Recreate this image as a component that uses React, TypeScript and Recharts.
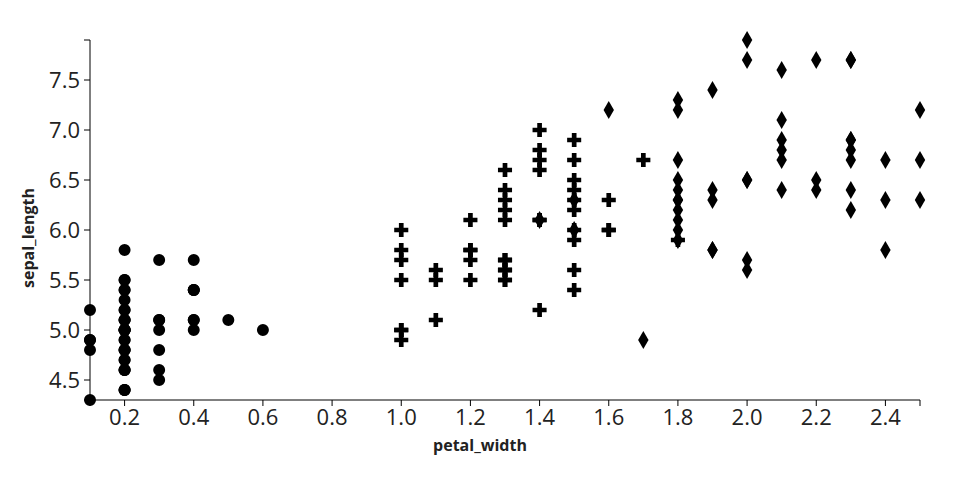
import React from 'react';
import { ScatterChart, Scatter, XAxis, YAxis, Symbols } from 'recharts';

// iris: petal_width vs sepal_length, one array pair per species
const setosaPetalWidth = [
  0.2, 0.2, 0.2, 0.2, 0.2, 0.4, 0.3, 0.2, 0.2, 0.1, 0.2, 0.2, 0.1, 0.1, 0.2, 0.4, 0.4,
  0.3, 0.3, 0.3, 0.2, 0.4, 0.2, 0.5, 0.2, 0.2, 0.4, 0.2, 0.2, 0.2, 0.2, 0.4, 0.1, 0.2,
  0.2, 0.2, 0.2, 0.1, 0.2, 0.2, 0.3, 0.3, 0.2, 0.6, 0.4, 0.3, 0.2, 0.2, 0.2, 0.2,
];
const setosaSepalLength = [
  5.1, 4.9, 4.7, 4.6, 5.0, 5.4, 4.6, 5.0, 4.4, 4.9, 5.4, 4.8, 4.8, 4.3, 5.8, 5.7, 5.4,
  5.1, 5.7, 5.1, 5.4, 5.1, 4.6, 5.1, 4.8, 5.0, 5.0, 5.2, 5.2, 4.7, 4.8, 5.4, 5.2, 5.5,
  4.9, 5.0, 5.5, 4.9, 4.4, 5.1, 5.0, 4.5, 4.4, 5.0, 5.1, 4.8, 5.1, 4.6, 5.3, 5.0,
];

const versicolorPetalWidth = [
  1.4, 1.5, 1.5, 1.3, 1.5, 1.3, 1.6, 1.0, 1.3, 1.4, 1.0, 1.5, 1.0, 1.4, 1.3, 1.4, 1.5,
  1.0, 1.5, 1.1, 1.8, 1.3, 1.5, 1.2, 1.3, 1.4, 1.4, 1.7, 1.5, 1.0, 1.1, 1.0, 1.2, 1.6,
  1.5, 1.6, 1.5, 1.3, 1.3, 1.3, 1.2, 1.4, 1.2, 1.0, 1.3, 1.2, 1.3, 1.3, 1.1, 1.3,
];
const versicolorSepalLength = [
  7.0, 6.4, 6.9, 5.5, 6.5, 5.7, 6.3, 4.9, 6.6, 5.2, 5.0, 5.9, 6.0, 6.1, 5.6, 6.7, 5.6,
  5.8, 6.2, 5.6, 5.9, 6.1, 6.3, 6.1, 6.4, 6.6, 6.8, 6.7, 6.0, 5.7, 5.5, 5.5, 5.8, 6.0,
  5.4, 6.0, 6.7, 6.3, 5.6, 5.5, 5.5, 6.1, 5.8, 5.0, 5.6, 5.7, 5.7, 6.2, 5.1, 5.7,
];

const virginicaPetalWidth = [
  2.5, 1.9, 2.1, 1.8, 2.2, 2.1, 1.7, 1.8, 1.8, 2.5, 2.0, 1.9, 2.1, 2.0, 2.4, 2.3, 1.8,
  2.2, 2.3, 1.5, 2.3, 2.0, 2.0, 1.8, 2.1, 1.8, 1.8, 1.8, 2.1, 1.6, 1.9, 2.0, 2.2, 1.5,
  1.4, 2.3, 2.4, 1.8, 1.8, 2.1, 2.4, 2.3, 1.9, 2.3, 2.5, 2.3, 1.9, 2.0, 2.3, 1.8,
];
const virginicaSepalLength = [
  6.3, 5.8, 7.1, 6.3, 6.5, 7.6, 4.9, 7.3, 6.7, 7.2, 6.5, 6.4, 6.8, 5.7, 5.8, 6.4, 6.5,
  7.7, 7.7, 6.0, 6.9, 5.6, 7.7, 6.3, 6.7, 7.2, 6.2, 6.1, 6.4, 7.2, 7.4, 7.9, 6.4, 6.3,
  6.1, 7.7, 6.3, 6.4, 6.0, 6.9, 6.7, 6.9, 5.8, 6.8, 6.7, 6.7, 6.3, 6.5, 6.2, 5.9,
];

const xTicks = [0.1, 0.2, 0.4, 0.6, 0.8, 1.0, 1.2, 1.4, 1.6, 1.8, 2.0, 2.2, 2.4, 2.5];
const yTicks = [4.3, 4.5, 5.0, 5.5, 6.0, 6.5, 7.0, 7.5, 7.9];

const zip = (w: number[], l: number[]) =>
  w.map((v, i) => ({ petal_width: v, sepal_length: l[i] }));

const setosa = zip(setosaPetalWidth, setosaSepalLength);
const versicolor = zip(versicolorPetalWidth, versicolorSepalLength);
const virginica = zip(virginicaPetalWidth, virginicaSepalLength);

const FONT = '"Open Sans", sans-serif';
const INK = '#000';

const marker = (type: 'circle' | 'cross' | 'diamond', size: number) => (p: any) =>
  <Symbols cx={p.cx} cy={p.cy} type={type} size={size} fill={INK} stroke="none" />;

export default function App() {
  return (
    <div style={{ position: 'absolute', left: 0, top: 0, width: 960, height: 500, background: '#fff' }}>
      <ScatterChart width={960} height={500} margin={{ top: 40, right: 40, bottom: 40, left: 0 }}>
        <XAxis
          dataKey="petal_width"
          type="number"
          domain={[0.1, 2.5]}
          ticks={xTicks}
          interval={0}
          height={60}
          tickSize={6}
          tickMargin={3}
          tickFormatter={(v: number) => (v === 0.1 || v === 2.5 ? '' : v.toFixed(1))}
          tick={{ fontSize: 22, fill: '#222', fontFamily: FONT }}
          axisLine={{ stroke: INK }}
          tickLine={{ stroke: INK }}
          label={{
            content: () => (
              <text x={480} y={451} textAnchor="middle" fontFamily={FONT} fontSize={16} fontWeight="bold" fill="#222">
                petal_width
              </text>
            ),
          }}
        />
        <YAxis
          dataKey="sepal_length"
          type="number"
          domain={[4.3, 7.9]}
          ticks={yTicks}
          interval={0}
          width={90}
          tickSize={6}
          tickMargin={4}
          tickFormatter={(v: number) => (v === 4.3 || v === 7.9 ? '' : v.toFixed(1))}
          tick={{ fontSize: 22, fill: '#222', fontFamily: FONT }}
          axisLine={{ stroke: INK }}
          tickLine={{ stroke: INK }}
          label={{
            content: () => (
              <text
                x={34}
                y={238}
                transform="rotate(-90 34 238)"
                textAnchor="middle"
                fontFamily={FONT}
                fontSize={16}
                fontWeight="bold"
                fill="#222"
              >
                sepal_length
              </text>
            ),
          }}
        />
        <Scatter data={setosa} shape={marker('circle', 113)} isAnimationActive={false} />
        <Scatter data={versicolor} shape={marker('cross', 110)} isAnimationActive={false} />
        <Scatter data={virginica} shape={marker('diamond', 94)} isAnimationActive={false} />
      </ScatterChart>
    </div>
  );
}
